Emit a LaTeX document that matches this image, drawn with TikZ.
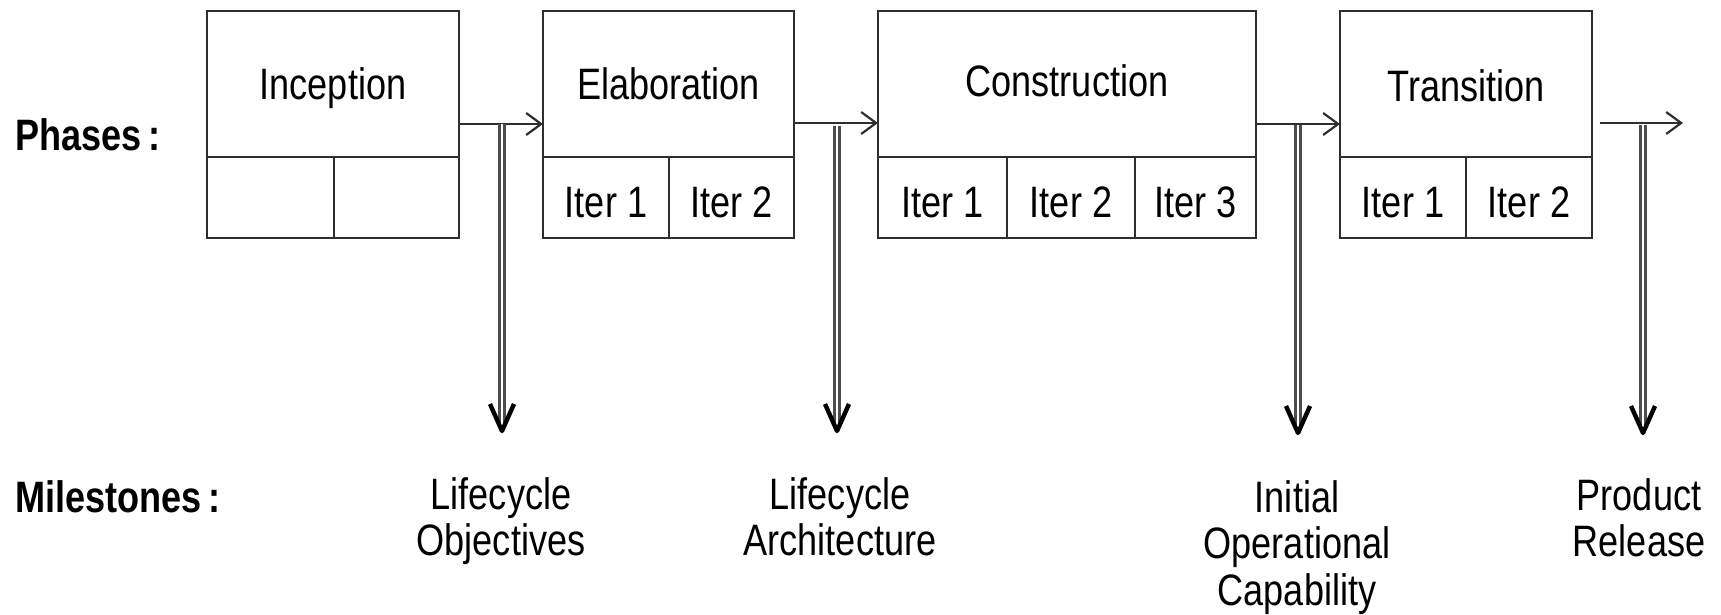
\documentclass[tikz,border=0pt]{standalone}
\usepackage{fontspec}
\setmainfont{Liberation Sans}[FakeStretch=0.82]
\usetikzlibrary{arrows.meta,calc}
\definecolor{boxline}{gray}{0.18}
\definecolor{shaftgray}{gray}{0.3}

\begin{document}
\begin{tikzpicture}[x=1pt,y=-1pt,
  every node/.style={font=\fontsize{44}{46.5}\selectfont},
  phase/.style={draw=boxline, line width=2.2pt, anchor=north west, inner sep=0pt, outer sep=0pt,
    minimum height=146pt, text height=32pt, text depth=0pt},
  iter/.style={draw=boxline, line width=2.2pt, anchor=north west, inner sep=0pt, outer sep=0pt,
    minimum height=81pt, text height=39pt, text depth=0pt},
  flow/.style={draw=boxline, line width=2.2pt, -{Straight Barb[length=15pt,width=22pt]}},
  shaft/.style={draw=shaftgray, line width=2.2pt, double=white, double distance=2.8pt},
  head/.style={draw=black, line width=4.4pt, line join=round},
  heading/.style={font=\fontsize{44}{46.5}\selectfont\bfseries, anchor=base west, inner sep=0pt},
  milestone/.style={align=center, anchor=north, inner sep=0pt}
]
\useasboundingbox (0,0) rectangle (1721,615);
\fill[white] (0,0) rectangle (1721,615);

% row headings
\node[heading] (phases) at (15,150) {Phases\,:};
\node[heading] (milestones) at (15,512) {Milestones\,:};

% phases with their iteration cells
\node[phase, minimum width=252pt] (inc) at (207,11) {Inception};
\node[iter, minimum width=127pt] (inc1) at (207,157) {};
\node[iter, minimum width=125pt] (inc2) at (334,157) {};

\node[phase, minimum width=251pt] (elab) at (543,11) {Elaboration};
\node[iter, minimum width=126pt] (elab1) at (543,157) {Iter 1};
\node[iter, minimum width=125pt] (elab2) at (669,157) {Iter 2};

\node[phase, minimum width=378pt, text height=26pt] (cons) at (878,11) {Construction};
\node[iter, minimum width=129pt] (cons1) at (878,157) {Iter 1};
\node[iter, minimum width=128pt] (cons2) at (1007,157) {Iter 2};
\node[iter, minimum width=121pt] (cons3) at (1135,157) {Iter 3};

\node[phase, minimum width=252pt, text height=36pt] (trans) at (1340,11) {Transition};
\node[iter, minimum width=126pt] (trans1) at (1340,157) {Iter 1};
\node[iter, minimum width=126pt] (trans2) at (1466,157) {Iter 2};

% flow between phases
\draw[flow] ([yshift=-40pt]inc.east) -- ([yshift=-40pt]elab.west);
\draw[flow] ([yshift=-39pt]elab.east) -- ([yshift=-39pt]cons.west);
\draw[flow] ([yshift=-40pt]cons.east) -- ([yshift=-40pt]trans.west);
\coordinate (out) at (1683,123);
\draw[flow] ([xshift=8pt,yshift=-39pt]trans.east) -- (out);

% milestone labels
\node[milestone] (lo) at (501,477) {Lifecycle\\Objectives};
\node[milestone] (la) at (840,477) {Lifecycle\\Architecture};
\node[milestone] (ioc) at (1297,480) {Initial\\Operational\\Capability};
\node[milestone] (pr) at (1639,478) {Product\\Release};

% milestone arrows
\coordinate (lo-top) at (502,124);  \coordinate (lo-tip) at (502,431);
\coordinate (la-top) at (837,126);  \coordinate (la-tip) at (837,431);
\coordinate (ioc-top) at (1298,125); \coordinate (ioc-tip) at (1298,433);
\coordinate (pr-top) at (1643,125); \coordinate (pr-tip) at (1643,433);
\foreach \m in {lo,la,ioc,pr}{
  \draw[shaft] (\m-top) -- ([yshift=4pt]\m-tip);
  \draw[head] ($(\m-tip)+(-12,-27)$) -- (\m-tip) -- ($(\m-tip)+(12,-27)$);
}
\end{tikzpicture}
\end{document}
